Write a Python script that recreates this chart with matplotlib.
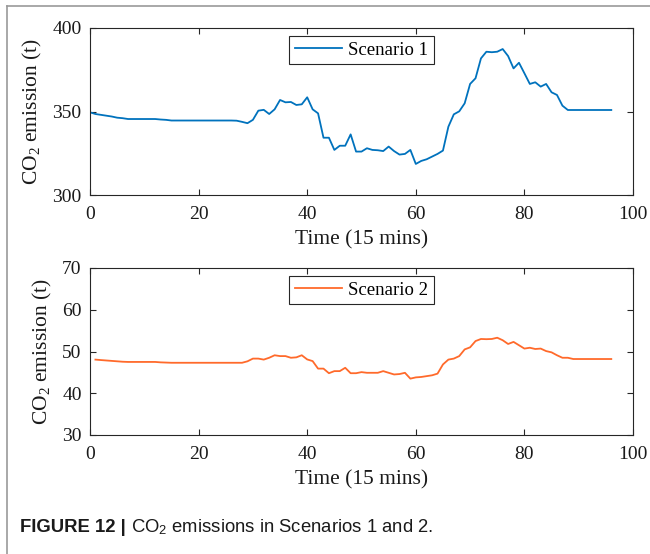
import matplotlib
matplotlib.use("Agg")
import matplotlib.pyplot as plt
from matplotlib.lines import Line2D

plt.rcParams["mathtext.fontset"] = "custom"
plt.rcParams["mathtext.rm"] = "Liberation Serif"
plt.rcParams["mathtext.it"] = "Liberation Serif:italic"
plt.rcParams["mathtext.sf"] = "Liberation Sans"

# ---- data ----
time_s1 = list(range(0, 97))
scenario1 = [349.5, 348.5, 348.0, 347.5, 347.0, 346.3, 346.0, 345.5, 345.5, 345.5,
             345.5, 345.5, 345.5, 345.2, 345.0, 344.6, 344.6, 344.6, 344.6, 344.6,
             344.6, 344.6, 344.6, 344.6, 344.6, 344.6, 344.6, 344.5, 343.8, 343.0,
             345.0, 350.5, 351.0, 348.5, 351.3, 356.9, 355.5, 355.7, 353.9, 354.3,
             358.5, 351.3, 348.9, 334.3, 334.3, 327.0, 329.5, 329.5, 336.3, 326.0,
             326.0, 328.0, 327.0, 326.8, 326.3, 329.0, 326.3, 324.2, 324.6, 327.0,
             318.6, 320.4, 321.4, 323.0, 324.6, 326.6, 340.9, 348.3, 350.1, 354.9,
             366.5, 369.9, 381.8, 385.8, 385.5, 385.8, 387.4, 383.2, 375.8, 379.2,
             372.9, 366.5, 367.5, 364.9, 366.5, 361.5, 359.9, 353.5, 350.9, 350.9,
             350.9, 350.9, 350.9, 350.9, 350.9, 350.9, 350.9]

time_s2 = list(range(1, 97))
scenario2 = [48.06, 47.95, 47.85, 47.75, 47.65, 47.55, 47.5, 47.5, 47.5, 47.5,
             47.5, 47.5, 47.4, 47.35, 47.3, 47.3, 47.3, 47.3, 47.3, 47.3,
             47.3, 47.3, 47.3, 47.3, 47.3, 47.3, 47.3, 47.3, 47.65, 48.3,
             48.3, 48.06, 48.5, 49.1, 48.9, 48.9, 48.5, 48.6, 49.1, 48.1,
             47.7, 45.9, 45.9, 44.8, 45.3, 45.3, 46.1, 44.8, 44.8, 45.06,
             44.9, 44.9, 44.9, 45.3, 44.9, 44.5, 44.6, 44.9, 43.5, 43.8,
             43.9, 44.1, 44.3, 44.7, 46.9, 48.06, 48.3, 48.9, 50.5, 51.0,
             52.5, 53.0, 52.95, 53.0, 53.3, 52.7, 51.8, 52.3, 51.5, 50.7,
             50.9, 50.6, 50.7, 50.1, 49.8, 49.1, 48.5, 48.5, 48.2, 48.2,
             48.2, 48.2, 48.2, 48.2, 48.2, 48.2]

x_ticks = [0, 20, 40, 60, 80, 100]
y_ticks_1 = [300, 350, 400]
y_ticks_2 = [30, 40, 50, 60, 70]

labels = ["Scenario 1", "Scenario 2"]
colors = ["#0072BD", "#FF6A2B"]

W, H = 650, 554
fig = plt.figure(figsize=(W / 100, H / 100), dpi=100)

serif = ["Liberation Serif", "DejaVu Serif"]
sans = ["Liberation Sans", "DejaVu Sans"]
axcol = "#262626"
txtcol = "#1a1a1a"


def make_ax(left, top, right, bottom):
    return fig.add_axes([left / W, 1 - bottom / H, (right - left) / W, (bottom - top) / H])


ax1 = make_ax(90, 28, 633, 195)
ax2 = make_ax(90, 268, 633, 435)

for ax, xs, ys, yt, lab, col in [
    (ax1, time_s1, scenario1, y_ticks_1, labels[0], colors[0]),
    (ax2, time_s2, scenario2, y_ticks_2, labels[1], colors[1]),
]:
    ax.plot(xs, ys, color=col, lw=1.3, label=lab)
    ax.set_xlim(x_ticks[0], x_ticks[-1])
    ax.set_ylim(yt[0], yt[-1])
    ax.set_xticks(x_ticks)
    ax.set_yticks(yt)
    ax.tick_params(direction="in", top=True, right=True, length=4, width=0.8,
                   color=axcol, labelsize=14, pad=8)
    for lbl in ax.get_xticklabels() + ax.get_yticklabels():
        lbl.set_fontfamily(serif)
        lbl.set_color(txtcol)
    ax.tick_params(axis="y", pad=6)
    for sp in ax.spines.values():
        sp.set_color(axcol)
        sp.set_linewidth(0.8)
    ax.set_xlabel("Time (15 mins)", fontsize=15.5, family=serif, color=txtcol, labelpad=5)
    ax.set_ylabel(r"CO$_\mathrm{2}$ emission (t)", fontsize=15.5, family=serif,
                  color=txtcol, labelpad=6)
    leg = ax.legend(loc="upper center", bbox_to_anchor=(0.5, 0.975), fancybox=False,
                    framealpha=1, edgecolor=axcol, handlelength=2.5, handletextpad=0.35,
                    borderpad=0.3, borderaxespad=0.2, prop={"family": serif, "size": 13.5})
    leg.get_frame().set_linewidth(0.8)

# frame around figure
fig.add_artist(Line2D([7 / W, 1], [1 - 6 / H, 1 - 6 / H], color="#999999", lw=1.2))
fig.add_artist(Line2D([7 / W, 7 / W], [0, 1 - 6 / H], color="#999999", lw=1.2))

# caption
fig.text(20 / W, 1 - 527 / H, "FIGURE 12 |", fontsize=13.3, weight="bold",
         family=sans, va="center", ha="left", color=txtcol)
fig.text(131 / W, 1 - 527 / H, r"CO$_\mathsf{2}$ emissions in Scenarios 1 and 2.",
         fontsize=13.3, family=sans, va="center", ha="left", color=txtcol)

fig.savefig("out.png", dpi=100)
